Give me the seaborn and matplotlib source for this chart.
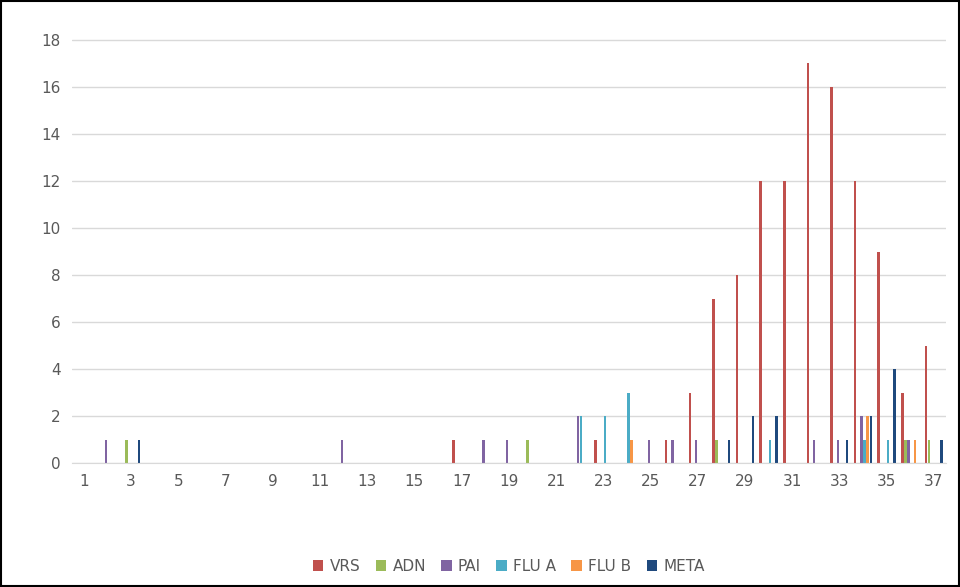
import matplotlib
matplotlib.use("Agg")
import matplotlib.pyplot as plt
import numpy as np
import pandas as pd
import seaborn as sns

weeks = list(range(1, 38))
series = ["VRS", "ADN", "PAI", "FLU A", "FLU B", "META"]
colors = ["#C0504D", "#9BBB59", "#8064A2", "#4BACC6", "#F79646", "#1F497D"]

vrs = {17: 1, 23: 1, 26: 1, 27: 3, 28: 7, 29: 8, 30: 12, 31: 12, 32: 17,
       33: 16, 34: 12, 35: 9, 36: 3, 37: 5}
adn = {3: 1, 20: 1, 28: 1, 36: 1, 37: 1}
pai = {2: 1, 12: 1, 18: 1, 19: 1, 22: 2, 25: 1, 26: 1, 27: 1, 32: 1, 33: 1,
       34: 2, 36: 1}
flu_a = {22: 2, 23: 2, 24: 3, 30: 1, 34: 1, 35: 1}
flu_b = {24: 1, 34: 2, 36: 1}
meta = {3: 1, 28: 1, 29: 2, 30: 2, 33: 1, 34: 2, 35: 4, 37: 1}

rows = []
for name, d in zip(series, [vrs, adn, pai, flu_a, flu_b, meta]):
    for w in weeks:
        rows.append({"week": w, "serie": name, "n": d.get(w, 0)})
df = pd.DataFrame(rows)

sns.set_style("white")
fig = plt.figure(figsize=(9.6, 5.87), dpi=100)
ax = fig.add_axes([0.075, 0.211, 0.91, 0.733])
sns.barplot(data=df, x="week", y="n", hue="serie", hue_order=series,
            palette=colors, saturation=1, width=0.8, gap=0.2, linewidth=0, ax=ax)

ax.set_ylim(0, 18.3)
ax.set_yticks(range(0, 19, 2))
ax.yaxis.grid(True, color="#D9D9D9", linewidth=1)
ax.set_axisbelow(True)
ax.set_xlim(-0.5, 36.5)
ax.set_xticks(range(0, 37, 2))
ax.set_xticklabels([str(w) for w in weeks[::2]])
ax.set_xlabel("")
ax.set_ylabel("")
for s in ["top", "right", "left"]:
    ax.spines[s].set_visible(False)
ax.spines["bottom"].set_color("#D9D9D9")
ax.tick_params(axis="both", length=0, labelsize=11, labelcolor="#595959", pad=8)

ax.legend(loc="center", bbox_to_anchor=(0.5, -0.24), ncol=6, frameon=False,
          fontsize=11, handlelength=0.7, handleheight=0.7, columnspacing=1.0,
          handletextpad=0.4, labelcolor="#595959")

fig.patches.append(plt.Rectangle((0.001, 0.001), 0.998, 0.998, transform=fig.transFigure,
                                 fill=False, edgecolor="black", linewidth=1.5))
fig.savefig("out.png", dpi=100)
